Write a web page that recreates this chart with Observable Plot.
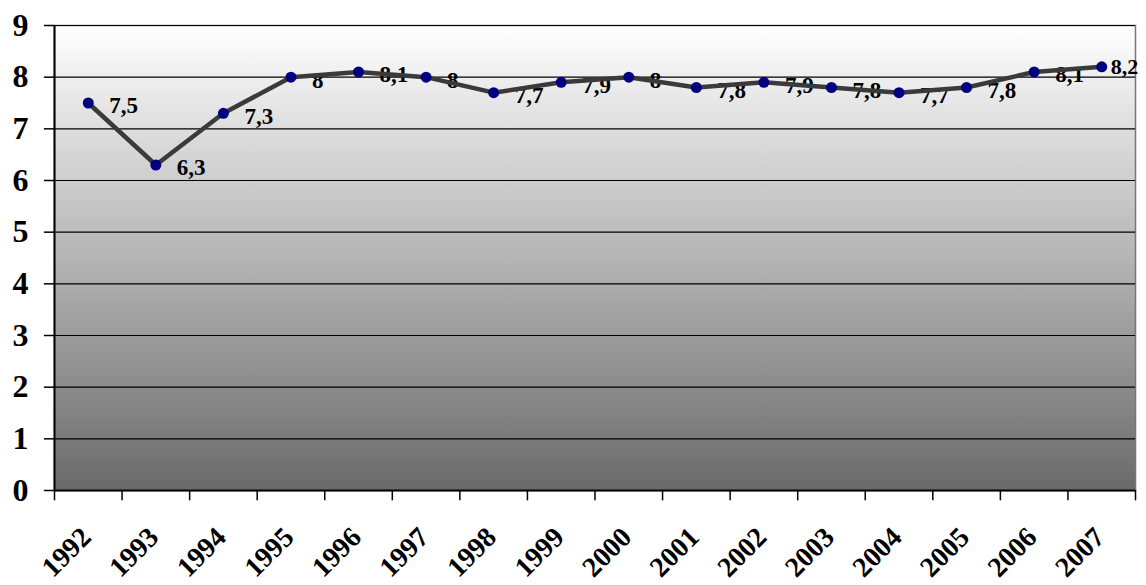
<!DOCTYPE html>
<html><head><meta charset="utf-8">
<script src="https://cdn.jsdelivr.net/npm/d3@7"></script>
<script src="https://cdn.jsdelivr.net/npm/@observablehq/plot@0.6"></script>
<style>body{margin:0;background:#fff;} svg{display:block;}</style>
</head><body><div id="chart"></div>
<script>
const years = ["1992","1993","1994","1995","1996","1997","1998","1999","2000","2001","2002","2003","2004","2005","2006","2007"];
const values = [7.5,6.3,7.3,8,8.1,8,7.7,7.9,8,7.8,7.9,7.8,7.7,7.8,8.1,8.2];
const valueLabels = ["7,5","6,3","7,3","8","8,1","8","7,7","7,9","8","7,8","7,9","7,8","7,7","7,8","8,1","8,2"];
const yTicks = [0,1,2,3,4,5,6,7,8,9];

const data = years.map((y,i)=>({i, x:i+0.5, year:y, v:values[i], label:valueLabels[i]}));
const bounds = d3.range(0, years.length+1);
const serif = "'Liberation Serif', 'Times New Roman', serif";
const lastIdx = data.length - 1;

const defs = () => {
  const d = d3.create("svg:defs");
  const g = d.append("linearGradient").attr("id","bg").attr("x1",0).attr("y1",0).attr("x2",0).attr("y2",1);
  g.append("stop").attr("offset","0%").attr("stop-color","#ffffff");
  g.append("stop").attr("offset","100%").attr("stop-color","#6a6a6a");
  return d.node();
};

const chart = Plot.plot({
  width: 1146, height: 585,
  marginLeft: 54, marginRight: 11, marginTop: 25, marginBottom: 95,
  style: {background:"#fff", overflow:"visible", fontFamily: serif},
  x: {type:"linear", domain:[0, years.length], axis:null},
  y: {type:"linear", domain:[0,9], axis:null},
  marks: [
    defs,
    Plot.frame({fill:"url(#bg)", stroke:"#777", strokeWidth:1.5}),
    Plot.ruleY(yTicks, {y:d=>d, stroke:"#000", strokeWidth:1.2}),
    Plot.ruleY(yTicks, {y:d=>d, x1:-0.15, x2:0, stroke:"#000", strokeWidth:1.5}),
    Plot.ruleX(bounds, {x:d=>d, y1:-0.2, y2:0, stroke:"#000", strokeWidth:1.5}),
    Plot.ruleY([0], {stroke:"#000", strokeWidth:2}),
    Plot.ruleX([0], {stroke:"#000", strokeWidth:2}),
    Plot.text(yTicks, {x:0, y:d=>d, text:d=>String(d), dx:-26, textAnchor:"end", fontSize:32, fontWeight:"bold", fontFamily:serif, fill:"#000"}),
    Plot.text(data.slice(0, lastIdx), {x:"x", y:"v", text:"label", dx:21, dy:3, textAnchor:"start", fontSize:23, fontWeight:"bold", fontFamily:serif, fill:"#000"}),
    Plot.text(data.slice(lastIdx), {x:"x", y:"v", text:"label", dx:9, dy:0, textAnchor:"start", fontSize:22, fontWeight:"bold", fontFamily:serif, fill:"#000"}),
    Plot.line(data, {x:"x", y:"v", stroke:"#3a3a3a", strokeWidth:4.5}),
    Plot.dot(data, {x:"x", y:"v", r:5.5, fill:"#000080", stroke:"none"}),
    Plot.text(data, {x:"x", y:0, text:"year", rotate:-45, dx:-2, dy:42, textAnchor:"end", fontSize:28, fontWeight:"bold", fontFamily:serif, fill:"#000"})
  ]
});
document.getElementById("chart").append(chart);
</script>
</body></html>
